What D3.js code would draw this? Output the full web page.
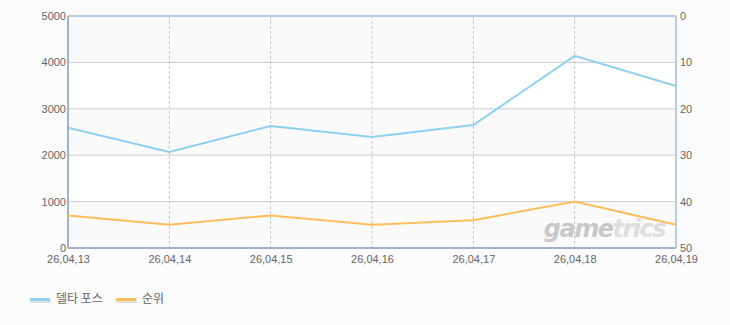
<!DOCTYPE html>
<html>
<head>
<meta charset="utf-8">
<script src="https://cdn.jsdelivr.net/npm/d3@7"></script>
<style>
  body { margin: 0; background: #fbfbfb; }
</style>
</head>
<body>
<div id="chart"></div>
<script>
// data
const dates = ["26,04,13", "26,04,14", "26,04,15", "26,04,16", "26,04,17", "26,04,18", "26,04,19"];
const players = [2590, 2070, 2630, 2390, 2650, 4140, 3490]; // 델타 포스
const ranks = [43, 45, 43, 45, 44, 40, 45]; // 순위
const leftTicks = [0, 1000, 2000, 3000, 4000, 5000];
const rightTicks = [0, 10, 20, 30, 40, 50];

const width = 730, height = 325;
const margin = { top: 16, right: 54, bottom: 77, left: 68 };

const svg = d3.select("#chart").append("svg")
    .attr("width", width)
    .attr("height", height)
    .style("background", "#fbfbfb");

const x = d3.scalePoint()
    .domain(dates)
    .range([margin.left, width - margin.right]);
const y = d3.scaleLinear()
    .domain([0, 5000])
    .range([height - margin.bottom, margin.top]);
const yR = d3.scaleLinear()
    .domain([0, 50])
    .range([margin.top, height - margin.bottom]);

// alternating bands
svg.append("g")
    .selectAll("rect")
    .data(d3.range(5))
    .join("rect")
    .attr("x", margin.left)
    .attr("width", width - margin.right - margin.left)
    .attr("y", i => y((i + 1) * 1000))
    .attr("height", i => y(i * 1000) - y((i + 1) * 1000))
    .attr("fill", i => i % 2 == 0 ? "#fafafa" : "#ffffff");

// horizontal grid
svg.append("g")
    .selectAll("line")
    .data(leftTicks.slice(1, -1))
    .join("line")
    .attr("x1", margin.left)
    .attr("x2", width - margin.right)
    .attr("y1", d => y(d))
    .attr("y2", d => y(d))
    .attr("stroke", "#cccccc");

// vertical dashed grid
svg.append("g")
    .selectAll("line")
    .data(dates.slice(1, -1))
    .join("line")
    .attr("x1", d => x(d))
    .attr("x2", d => x(d))
    .attr("y1", margin.top)
    .attr("y2", height - margin.bottom)
    .attr("stroke", "#c8c8c8")
    .attr("stroke-dasharray", "3,2");

// watermark
const wm = svg.append("text")
    .attr("x", 665)
    .attr("y", 237)
    .attr("text-anchor", "end")
    .style("font-family", "'DejaVu Sans', sans-serif")
    .style("font-style", "italic")
    .style("font-weight", "bold")
    .style("font-size", "24px")
    .style("letter-spacing", "-1.5px");
wm.append("tspan").attr("fill", "#c8c8c8").text("game");
wm.append("tspan").attr("fill", "#dedede").text("trics");

// frame
svg.append("line")
    .attr("x1", margin.left).attr("x2", width - margin.right)
    .attr("y1", margin.top).attr("y2", margin.top)
    .attr("stroke", "#b8cce0").attr("stroke-width", 2);
svg.append("line")
    .attr("x1", width - margin.right).attr("x2", width - margin.right)
    .attr("y1", margin.top).attr("y2", height - margin.bottom)
    .attr("stroke", "#b8cce0").attr("stroke-width", 2);
svg.append("line")
    .attr("x1", margin.left).attr("x2", width - margin.right)
    .attr("y1", height - margin.bottom).attr("y2", height - margin.bottom)
    .attr("stroke", "#9fb2c8").attr("stroke-width", 2);
svg.append("line")
    .attr("x1", margin.left).attr("x2", margin.left)
    .attr("y1", margin.top).attr("y2", height - margin.bottom)
    .attr("stroke", "#9fb2c8").attr("stroke-width", 2);

// axes
const leftAxis = svg.append("g")
    .attr("transform", `translate(${margin.left},0)`)
    .call(d3.axisLeft(y).tickValues(leftTicks).tickFormat(d3.format("d")).tickSize(0).tickPadding(2));
const rightAxis = svg.append("g")
    .attr("transform", `translate(${width - margin.right},0)`)
    .call(d3.axisRight(yR).tickValues(rightTicks).tickFormat(d3.format("d")).tickSize(0).tickPadding(4));
const bottomAxis = svg.append("g")
    .attr("transform", `translate(0,${height - margin.bottom})`)
    .call(d3.axisBottom(x).tickSize(0).tickPadding(7));

[leftAxis, rightAxis, bottomAxis].forEach(g => {
    g.select(".domain").remove();
    g.selectAll("text")
        .attr("fill", "#666666")
        .style("font-size", "11px")
        .style("font-family", "'Liberation Sans', Arial, sans-serif");
});

// lines
const line = d3.line()
    .x((d, i) => x(dates[i]))
    .y(d => y(d));
svg.append("path")
    .datum(players)
    .attr("d", line)
    .attr("fill", "none")
    .attr("stroke", "#8fd0f0")
    .attr("stroke-width", 2);

const lineR = d3.line()
    .x((d, i) => x(dates[i]))
    .y(d => yR(d));
svg.append("path")
    .datum(ranks)
    .attr("d", lineR)
    .attr("fill", "none")
    .attr("stroke", "#fbbd5a")
    .attr("stroke-width", 2);

// legend
const legend = [
    { name: "델타 포스", color: "#8fd0f0", x: 30 },
    { name: "순위", color: "#fbbd5a", x: 116 }
];
const lg = svg.append("g").selectAll("g").data(legend).join("g")
    .attr("transform", d => `translate(${d.x},299)`);
lg.append("rect")
    .attr("x", 1).attr("y", 1).attr("width", 20).attr("height", 3)
    .attr("fill", "#e0e0e0");
lg.append("rect")
    .attr("x", 0).attr("y", -1).attr("width", 20).attr("height", 3)
    .attr("fill", d => d.color);
lg.append("text")
    .attr("x", 26).attr("y", 4)
    .style("font-size", "12px")
    .style("font-family", "'Noto Sans CJK KR', sans-serif")
    .attr("fill", "#666666")
    .text(d => d.name);
</script>
</body>
</html>
